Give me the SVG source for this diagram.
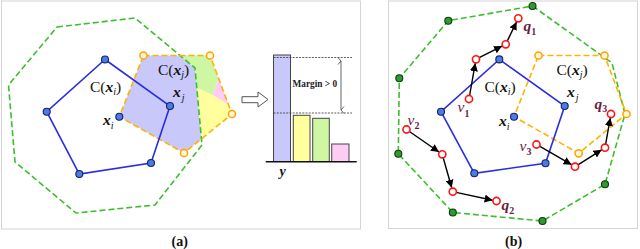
<svg xmlns="http://www.w3.org/2000/svg" width="640" height="249" viewBox="0 0 640 249">
<defs>
<marker id="ah" markerUnits="userSpaceOnUse" markerWidth="9" markerHeight="8" refX="8" refY="4" orient="auto">
<path d="M0,0 L8,4 L0,8 Z" fill="#000"/>
</marker>
<marker id="oh" markerUnits="userSpaceOnUse" markerWidth="8" markerHeight="8" refX="4" refY="7" orient="auto-start-reverse">
<path d="M0.5,4 L4,7 L7.5,4" fill="none" stroke="#555" stroke-width="0.9"/>
</marker>
</defs>
<style>
.panel{fill:#fff;stroke:#d4d4d4;stroke-width:1}
.gdash{fill:none;stroke:#3cbf2c;stroke-width:1.6;stroke-dasharray:6,3}
.odash{fill:none;stroke:#ffb300;stroke-width:1.6;stroke-dasharray:6,3}
.bline{fill:none;stroke:#2a2ee0;stroke-width:1.6}
.bdot{fill:#4a7de0;stroke:#16206e;stroke-width:1.1}
.odot{fill:#fff6d8;stroke:#ffa200;stroke-width:1.5}
.gdot{fill:#2f9a2f;stroke:#0e3a0e;stroke-width:1.1}
.rdot{fill:#fff;stroke:#ff1414;stroke-width:1.6}
.arr{fill:none;stroke:#000;stroke-width:1.4;marker-end:url(#ah)}
.lab{font-family:"Liberation Serif",serif;font-size:15.5px;fill:#111}
.bi{font-weight:bold;font-style:italic}
.it{font-style:italic}
.mar{fill:#6b1d3f}
.cap{font-family:"Liberation Serif",serif;font-size:14px;font-weight:bold;fill:#111}
.bar{stroke:#444;stroke-width:1}
.dl{stroke:#333;stroke-width:0.8;stroke-dasharray:2,1.2}
</style>

<g id="panel-a">
<rect class="panel" x="1.5" y="1" width="359" height="228"/>
<g id="regions-a">
<polygon fill="#c8c8fa" points="143.5,55.5 180,55.5 195,68 201.4,138.8 184,153 119.3,116.7"/>
<polygon fill="#cff7a3" points="180,55.5 210,55.5 218.6,78.5 212.7,95 196.8,88 195,68"/>
<polygon fill="#ffccf6" points="218.6,78.5 228.6,105 212.7,95"/>
<polygon fill="#ffff9e" points="196.8,88 212.7,95 228.6,105 232,114 201.4,138.8"/>
</g>
<g id="hull-a">
<polygon class="gdash" points="57,27 135,18 195,68 202,145 155,205 76,213 15,162 8.5,85"/>
</g>
<g id="cell-xj-a">
<polygon class="odash" points="143.5,55.5 210,55.5 232,114 184,153 119.3,116.7"/>
<circle class="odot" cx="143.5" cy="55.5" r="3.6"/>
<circle class="odot" cx="210" cy="55.5" r="3.6"/>
<circle class="odot" cx="232" cy="114" r="3.6"/>
<circle class="odot" cx="184" cy="153" r="3.6"/>
</g>
<g id="cell-xi-a">
<polygon class="bline" points="105,59.5 170,106 151,163 79.3,174 46.7,111.7"/>
<circle class="bdot" cx="105" cy="59.5" r="3.5"/>
<circle class="bdot" cx="170" cy="106" r="3.5"/>
<circle class="bdot" cx="151" cy="163" r="3.5"/>
<circle class="bdot" cx="79.3" cy="174" r="3.5"/>
<circle class="bdot" cx="46.7" cy="111.7" r="3.5"/>
<circle class="bdot" cx="119.3" cy="116.7" r="3.5"/>
</g>
<g id="labels-a">
<text class="lab" x="90" y="91.5">C(<tspan class="bi">x</tspan><tspan class="it" font-size="10" dy="3">i</tspan><tspan dy="-3">)</tspan></text>
<text class="lab" x="158" y="75">C(<tspan class="bi">x</tspan><tspan class="it" font-size="10" dy="3">j</tspan><tspan dy="-3">)</tspan></text>
<text class="lab" x="173" y="96.5"><tspan class="bi">x</tspan><tspan class="it" font-size="10" dx="1" dy="4">j</tspan></text>
<text class="lab" x="103" y="125"><tspan class="bi">x</tspan><tspan class="it" font-size="10" dy="4">i</tspan></text>
</g>
<g id="block-arrow">
<path d="M242,96.7 L258,96.7 L258,92 L268,99.5 L258,107 L258,102.7 L242,102.7 Z" fill="#fff" stroke="#555" stroke-width="1"/>
</g>
<g id="bar-chart">
<rect class="bar" x="273.5" y="55" width="17" height="106.5" fill="#c8c8fa"/>
<rect class="bar" x="293.3" y="115.3" width="16.7" height="46.2" fill="#ffff9e"/>
<rect class="bar" x="312.7" y="118.3" width="16.6" height="43.2" fill="#cff7a3"/>
<rect class="bar" x="331.7" y="144" width="17.3" height="17.5" fill="#ffccf6"/>
<line class="dl" x1="273.5" y1="57.5" x2="352" y2="57.5"/>
<line class="dl" x1="273.5" y1="113" x2="352" y2="113"/>
<line x1="341" y1="61" x2="341" y2="110" stroke="#555" stroke-width="0.9" marker-start="url(#oh)" marker-end="url(#oh)"/>
<line x1="265.7" y1="161.7" x2="356.7" y2="161.7" stroke="#111" stroke-width="1.5"/>
<text x="292.5" y="86.5" font-family="Liberation Serif,serif" font-size="9.3" font-weight="bold" fill="#222">Margin &gt; 0</text>
<text x="279.5" y="175.5" font-family="Liberation Serif,serif" font-size="14" font-weight="bold" font-style="italic" fill="#111">y</text>
</g>
<text class="cap" x="171.5" y="246">(a)</text>
</g>

<g id="panel-b">
<rect class="panel" x="388.5" y="1" width="249" height="227.5"/>
<g id="hull-b">
<polygon class="gdash" points="532.5,6 612,63 625,114 605,184.3 542.5,221 452.8,212.5 398.3,153.8 399.3,78.3 448.3,20.7"/>
</g>
<g id="cell-xj-b">
<polygon class="odash" points="538.5,55.5 604.5,55.5 626.5,114 578.7,153.3 514,116.7"/>
</g>
<g id="cell-xi-b">
<polygon class="bline" points="499.3,59.4 564.7,106 545.5,163.3 474.3,173.3 441,111.7"/>
</g>
<g id="connectors">
<line class="arr" x1="469.6" y1="95.5" x2="475.3" y2="63.2"/>
<line class="arr" x1="479.1" y1="57.7" x2="502.1" y2="46.1"/>
<line class="arr" x1="507.2" y1="41.1" x2="516.6" y2="21.9"/>
<line class="arr" x1="409.4" y1="131.5" x2="439" y2="152"/>
<line class="arr" x1="443.2" y1="157.7" x2="451.7" y2="187.8"/>
<line class="arr" x1="456.2" y1="192.4" x2="492.6" y2="200.2"/>
<line class="arr" x1="539.5" y1="146.2" x2="571.5" y2="164.7"/>
<line class="arr" x1="578" y1="164.8" x2="601.6" y2="149.8"/>
<line class="arr" x1="605.6" y1="144.3" x2="610.3" y2="118"/>
</g>
<g id="hull-dots-b">
<circle class="gdot" cx="532.5" cy="6" r="3.5"/>
<circle class="gdot" cx="448.3" cy="20.7" r="3.5"/>
<circle class="gdot" cx="399.3" cy="78.3" r="3.5"/>
<circle class="gdot" cx="398.3" cy="153.8" r="3.5"/>
<circle class="gdot" cx="452.8" cy="212.5" r="3.5"/>
<circle class="gdot" cx="542.5" cy="221" r="3.5"/>
<circle class="gdot" cx="605" cy="184.3" r="3.5"/>
</g>
<g id="cell-xj-dots-b">
<circle class="odot" cx="538.5" cy="55.5" r="3.6"/>
<circle class="odot" cx="604.5" cy="55.5" r="3.6"/>
<circle class="odot" cx="626.5" cy="114" r="3.6"/>
<circle class="odot" cx="578.7" cy="153.3" r="3.6"/>
</g>
<g id="cell-xi-dots-b">
<circle class="bdot" cx="499.3" cy="59.4" r="3.5"/>
<circle class="bdot" cx="564.7" cy="106" r="3.5"/>
<circle class="bdot" cx="545.5" cy="163.3" r="3.5"/>
<circle class="bdot" cx="474.3" cy="173.3" r="3.5"/>
<circle class="bdot" cx="441" cy="111.7" r="3.5"/>
<circle class="bdot" cx="514" cy="116.7" r="3.5"/>
</g>
<g id="path-v1">
<circle class="rdot" cx="469" cy="99" r="3.6"/>
<circle class="rdot" cx="476" cy="59.3" r="3.6"/>
<circle class="rdot" cx="505.7" cy="44.3" r="3.6"/>
<circle class="rdot" cx="518.3" cy="18.3" r="3.6"/>
</g>
<g id="path-v2">
<circle class="rdot" cx="406.5" cy="129.5" r="3.6"/>
<circle class="rdot" cx="442.3" cy="154.3" r="3.6"/>
<circle class="rdot" cx="452.8" cy="191.7" r="3.6"/>
<circle class="rdot" cx="496.5" cy="201" r="3.6"/>
</g>
<g id="path-v3">
<circle class="rdot" cx="536.5" cy="144.5" r="3.6"/>
<circle class="rdot" cx="575" cy="166.7" r="3.6"/>
<circle class="rdot" cx="605" cy="147.7" r="3.6"/>
<circle class="rdot" cx="611" cy="114" r="3.6"/>
</g>
<g id="labels-b">
<text class="lab" x="484.5" y="91.5">C(<tspan class="bi">x</tspan><tspan class="it" font-size="10" dy="3">i</tspan><tspan dy="-3">)</tspan></text>
<text class="lab" x="556.5" y="75">C(<tspan class="bi">x</tspan><tspan class="it" font-size="10" dy="3">j</tspan><tspan dy="-3">)</tspan></text>
<text class="lab" x="567" y="96.5"><tspan class="bi">x</tspan><tspan class="it" font-size="10" dx="1" dy="4">j</tspan></text>
<text class="lab" x="499" y="126"><tspan class="bi">x</tspan><tspan class="it" font-size="10" dy="4">i</tspan></text>
<text class="lab mar" x="457.5" y="111.5"><tspan class="it">v</tspan><tspan font-size="10" font-weight="bold" dy="5">1</tspan></text>
<text class="lab mar" x="407.5" y="124.5"><tspan class="it">v</tspan><tspan font-size="10" font-weight="bold" dy="4">2</tspan></text>
<text class="lab mar" x="519.5" y="151"><tspan class="it">v</tspan><tspan font-size="10" font-weight="bold" dy="4">3</tspan></text>
<text class="lab mar" x="523.5" y="30.5"><tspan class="bi">q</tspan><tspan font-size="10" font-weight="bold" dy="4">1</tspan></text>
<text class="lab mar" x="501.5" y="210"><tspan class="bi">q</tspan><tspan font-size="10" font-weight="bold" dy="4">2</tspan></text>
<text class="lab mar" x="594.5" y="109"><tspan class="bi">q</tspan><tspan font-size="10" font-weight="bold" dy="3">3</tspan></text>
</g>
<text class="cap" x="505" y="246">(b)</text>
</g>
</svg>
